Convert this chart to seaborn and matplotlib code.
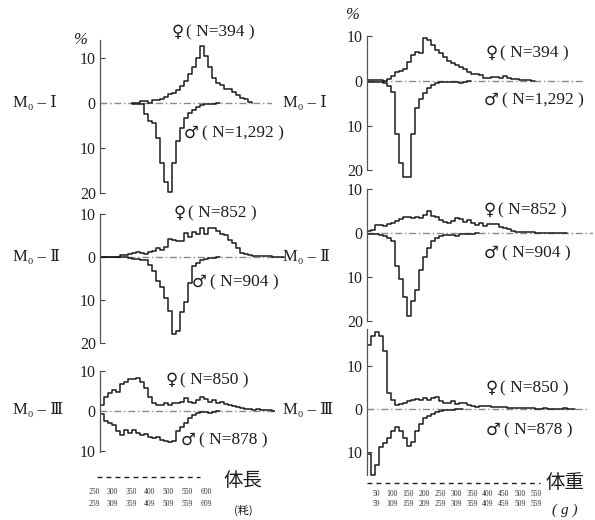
import numpy as np
import pandas as pd
import matplotlib
matplotlib.use("Agg")
import matplotlib.pyplot as plt
from matplotlib.ticker import FuncFormatter
import seaborn as sns

sns.set_theme(style="white")
plt.rcParams["font.family"] = ["Liberation Serif", "DejaVu Serif", "DejaVu Sans", "Noto Sans CJK JP"]

# ---- frequency (%) per size class; ♀ plotted upward, ♂ downward ----
# body length (体長)
len1_female = [0.1, 0.1, 0.4, 0.4, 0.1, 0.6, 0.7, 1.0, 1.4, 1.9, 2.2, 3.0, 3.8, 5.0, 6.5,
               8.0, 10.0, 12.7, 10.5, 8.0, 5.5, 4.5, 4.0, 3.2, 3.2, 2.4, 1.8, 1.2, 0.8, 0.3]
len1_male = [0.2, 0.3, 0.3, 2.5, 4.1, 4.5, 7.8, 13.4, 17.5, 19.8, 13.4, 8.5, 5.5, 3.4, 2.3,
             1.6, 0.8, 0.4, 0.2, 0.2, 0.3, 0.1]
len2_female = [0.1, 0.1, 0.1, 0.1, 0.1, 0.5, 0.5, 0.6, 0.85, 1.2, 0.9, 0.6, 1.2, 1.5, 2.2,
               1.6, 2.4, 4.1, 4.0, 3.7, 3.7, 5.5, 4.7, 5.9, 5.3, 6.7, 5.3, 6.7, 6.8, 6.0,
               5.3, 5.1, 4.0, 3.2, 2.0, 1.0, 0.6, 0.4, 0.2, 0.2, 0.15, 0.2, 0.15, 0.1, 0.1, 0.1]
len2_male = [0.1, 0.1, 0.1, 0.1, 0.1, 0.1, 0.1, 0.3, 0.4, 0.4, 0.6, 0.7, 1.9, 3.2, 5.5,
             6.9, 9.6, 12.5, 17.8, 17.3, 12.7, 10.5, 6.1, 2.2, 1.3, 0.8, 0.5, 0.3, 0.2, 0.1]
len3_female = [1.5, 3.5, 4.5, 5.3, 4.8, 6.8, 7.3, 7.9, 8.1, 8.2, 7.3, 5.8, 3.6, 1.9, 1.5,
               1.5, 1.9, 1.5, 1.9, 1.9, 2.3, 3.2, 2.3, 1.9, 2.75, 3.6, 3.0, 2.3, 2.75, 1.9,
               2.3, 1.8, 1.5, 1.2, 1.1, 0.7, 0.4, 0.4, 0.3, 0.6, 0.3, 0.2, 0.2, 0.1]
len3_male = [0.8, 2.4, 3.1, 3.5, 5.0, 6.0, 4.8, 5.6, 4.8, 5.6, 6.0, 5.8, 6.5, 6.7, 6.6,
             7.25, 7.6, 7.8, 7.4, 5.0, 4.0, 3.0, 1.8, 1.0, 0.4, 0.2, 0.3, 0.5, 0.2, 0.1]

# body weight (体重)
wt1_female = [0.2, 0.2, 0.2, 0.2, 0.1, 0.5, 1.2, 2.0, 2.3, 2.8, 4.3, 5.9, 6.6, 6.4, 9.7,
              9.3, 8.1, 7.0, 6.2, 5.3, 4.5, 4.1, 3.7, 3.2, 2.6, 2.1, 1.6, 1.5, 1.3, 0.6,
              0.7, 0.8, 0.8, 0.6, 1.1, 0.6, 0.4, 0.4, 0.2, 0.2, 0.2, 0.1]
wt1_male = [0.2, 0.2, 0.2, 0.2, 0.4, 1.2, 2.5, 12.0, 18.5, 21.5, 21.5, 12.0, 6.0, 4.0, 2.6,
            1.6, 0.9, 0.5, 0.3, 0.2, 0.2, 0.2, 0.2, 0.4, 0.2, 0.1]
wt2_female = [0.4, 0.6, 1.8, 1.8, 1.5, 2.0, 2.3, 2.7, 3.1, 3.6, 3.7, 3.5, 3.6, 3.5, 4.0,
              5.0, 3.9, 3.6, 3.0, 2.5, 2.3, 2.8, 3.4, 3.1, 2.5, 2.9, 2.3, 1.8, 2.2, 1.6,
              2.0, 2.0, 2.0, 1.4, 1.2, 0.8, 0.4, 0.3, 0.2, 0.2, 0.15, 0.15, 0.1, 0.1, 0.1,
              0.1, 0.1, 0.1, 0.1, 0.1]
wt2_male = [0.3, 0.3, 0.3, 0.5, 0.7, 1.2, 1.9, 7.5, 10.5, 14.5, 18.8, 15.5, 13.0, 8.5, 5.5,
            3.3, 1.9, 1.2, 0.6, 0.4, 0.4, 0.4, 0.7, 0.2, 0.2, 0.2, 0.2, 0.1]
wt3_female = [14.9, 17.0, 17.8, 17.0, 13.5, 3.8, 2.0, 0.9, 1.1, 1.4, 1.9, 2.0, 2.3, 2.1, 2.6,
              2.1, 2.5, 2.9, 1.8, 1.4, 1.3, 1.9, 1.2, 1.3, 1.3, 0.9, 0.8, 0.5, 0.6, 0.8,
              0.7, 0.4, 0.4, 0.5, 0.5, 0.2, 0.2, 0.3, 0.3, 0.2, 0.15, 0.15, 0.1, 0.1, 0.15,
              0.1, 0.1, 0.1, 0.1, 0.15, 0.1, 0.1]
wt3_male = [10.5, 15.3, 13.0, 8.8, 7.9, 6.8, 5.2, 4.1, 5.0, 6.8, 8.5, 7.6, 5.0, 3.5, 2.2,
            1.6, 1.1, 0.8, 0.5, 0.3, 0.2, 0.15, 0.1, 0.1]

# sample sizes and series names
groups = ["Ⅰ", "Ⅱ", "Ⅲ"]
n_female = [394, 852, 850]
n_male = [1292, 904, 878]

# class labels printed under each column
length_lo = [250, 300, 350, 400, 500, 550, 600]
length_hi = [259, 309, 359, 409, 509, 559, 609]
weight_lo = [50, 100, 150, 200, 250, 300, 350, 400, 450, 500, 550]
weight_hi = [59, 109, 159, 209, 259, 309, 359, 409, 459, 509, 559]

W, H = 595, 520
fig = plt.figure(figsize=(W / 100, H / 100), dpi=100)
fig.patch.set_facecolor("white")

LINE = "#1c1c1c"
BASE = "#8a8a8a"

# panel geometry in pixels: spine x, right end x, zero y, px per %, y-limits, spine bounds, ticks,
# start class of ♀ and ♂ series
layout = {
    "len1": dict(sx=100, ex=272, zy=103, ppu=4.5, lim=(-21, 14.5), bnd=(-20, 14), ticks=[-20, -10, 0, 10], f0=8, m0=8),
    "len2": dict(sx=100, ex=285, zy=257, ppu=4.3, lim=(-21, 11), bnd=(-20, 10), ticks=[-20, -10, 0, 10], f0=0, m0=0),
    "len3": dict(sx=100, ex=275, zy=411, ppu=4.0, lim=(-11, 11), bnd=(-10.3, 10), ticks=[-10, 0, 10], f0=0, m0=0),
    "wt1": dict(sx=367, ex=583, zy=81, ppu=4.45, lim=(-22.8, 11), bnd=(-20, 10), ticks=[-20, -10, 0, 10], f0=0, m0=0),
    "wt2": dict(sx=367, ex=593, zy=233, ppu=4.4, lim=(-21, 10.8), bnd=(-20, 10), ticks=[-20, -10, 0, 10], f0=0, m0=0),
    "wt3": dict(sx=367, ex=590, zy=409, ppu=4.3, lim=(-16, 19.2), bnd=(-15.4, 18.6), ticks=[-10, 0, 10], f0=0, m0=0),
}
series = {
    "len1": (len1_female, len1_male), "len2": (len2_female, len2_male), "len3": (len3_female, len3_male),
    "wt1": (wt1_female, wt1_male), "wt2": (wt2_female, wt2_male), "wt3": (wt3_female, wt3_male),
}
BIN_PX = 4.0


def step_frame(values, start, sign):
    v = sign * np.asarray(values, float)
    edges = start + np.arange(len(v) + 1)
    x = np.concatenate([[edges[0]], edges])
    y = np.concatenate([[0.0], v, [0.0]])
    return pd.DataFrame({"cls": x, "pct": y})


for key, g in layout.items():
    ymin, ymax = g["lim"]
    top_px = g["zy"] - ymax * g["ppu"]
    bot_px = g["zy"] - ymin * g["ppu"]
    ax = fig.add_axes([g["sx"] / W, 1 - bot_px / H, (g["ex"] - g["sx"]) / W, (bot_px - top_px) / H])
    ax.set_facecolor("none")
    nbins = (g["ex"] - g["sx"]) / BIN_PX
    ax.axhline(0, color=BASE, lw=1.0, ls=(0, (5, 2, 1, 2)), zorder=1)
    fem, mal = series[key]
    for vals, start, sign in ((fem, g["f0"], 1), (mal, g["m0"], -1)):
        sns.lineplot(data=step_frame(vals, start, sign), x="cls", y="pct", ax=ax, color=LINE,
                     lw=1.1, estimator=None, sort=False, drawstyle="steps-post", legend=False, zorder=2)
    ax.set_xlim(0, nbins)
    ax.set_ylim(ymin, ymax)
    ax.set_xticks([])
    ax.set_yticks(g["ticks"])
    ax.yaxis.set_major_formatter(FuncFormatter(lambda v, p: f"{abs(v):g}"))
    ax.set_xlabel("")
    ax.set_ylabel("")
    for s in ("top", "right", "bottom"):
        ax.spines[s].set_visible(False)
    ax.spines["left"].set_bounds(*g["bnd"])
    ax.spines["left"].set_color("#555555")
    ax.spines["left"].set_linewidth(0.9)
    ax.tick_params(axis="y", left=True, direction="in", length=3.5, width=0.8, color="#444444",
                   labelsize=11.5, pad=3, labelcolor="#222222")

# overlay for text labels
ov = fig.add_axes([0, 0, 1, 1], zorder=5)
ov.set_xlim(0, W)
ov.set_ylim(H, 0)
ov.axis("off")
ov.patch.set_alpha(0)

TXT = "#1e1e1e"
ov.text(80, 40, "%", fontsize=12, ha="center", va="center", color=TXT, style="italic")
ov.text(352, 15, "%", fontsize=12, ha="center", va="center", color=TXT, style="italic")

row_y = [103, 257, 410]
for gname, y in zip(groups, row_y):
    ov.text(13, y, f"M₀ – {gname}", fontsize=12, ha="left", va="center", color=TXT)
    ov.text(283, y, f"M₀ – {gname}", fontsize=12, ha="left", va="center", color=TXT)

fem_pos = [(172, 32), (174, 213), (166, 380)]
mal_pos = [(184, 133), (192, 282), (181, 440)]
fem_pos_r = [(486, 53), (484, 210), (486, 388)]
mal_pos_r = [(484, 100), (484, 253), (486, 430)]


def sex_label(x, y, sym, n, gap):
    ov.text(x, y, sym, fontsize=12, ha="left", va="center", color=TXT, family="DejaVu Sans")
    ov.text(x + gap, y, f"( N={n:,} )", fontsize=12.5, ha="left", va="center", color=TXT)


for i in range(3):
    sex_label(*fem_pos[i], "♀", n_female[i], 14)
    sex_label(*fem_pos_r[i], "♀", n_female[i], 14)
    sex_label(*mal_pos[i], "♂", n_male[i], 18)
    sex_label(*mal_pos_r[i], "♂", n_male[i], 18)

# class scales under the columns
ov.plot([97, 200], [477, 477], color=TXT, lw=1.0, ls=(0, (3.5, 3)))
ov.plot([367, 540], [483, 483], color=TXT, lw=1.0, ls=(0, (3.5, 3)))
ov.text(243, 481, "体長", fontsize=14, ha="center", va="center", color=TXT, family="Noto Sans CJK JP")
ov.text(565, 482, "体重", fontsize=14, ha="center", va="center", color=TXT, family="Noto Sans CJK JP")
ov.text(243, 510, "(粍)", fontsize=8, ha="center", va="center", color=TXT, family="Noto Sans CJK JP")
ov.text(565, 510, "( g )", fontsize=11, ha="center", va="center", color=TXT, style="italic")

for xs, lo, hi, y1, y2 in ((np.linspace(94, 206, len(length_lo)), length_lo, length_hi, 492, 504),
                           (np.linspace(376, 536, len(weight_lo)), weight_lo, weight_hi, 494, 504)):
    for x, a, b in zip(xs, lo, hi):
        ov.text(x, y1, str(a), fontsize=5.5, ha="center", va="center", color="#333333")
        ov.text(x, y2, str(b), fontsize=5.5, ha="center", va="center", color="#333333")

fig.savefig("out.png", dpi=100, facecolor="white")
